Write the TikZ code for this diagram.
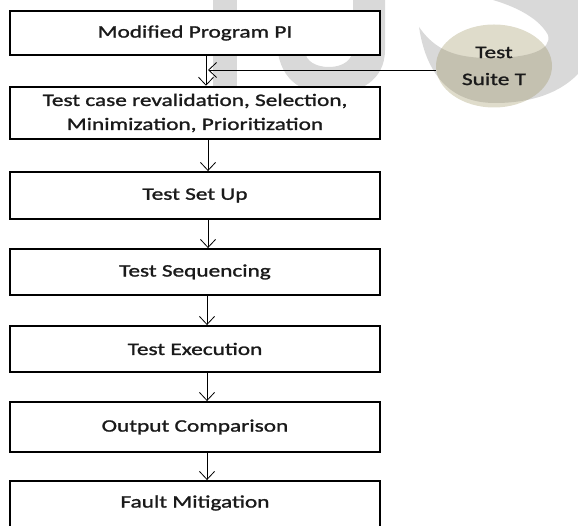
\documentclass[tikz,border=0pt]{standalone}
\usepackage{fontspec}
\setmainfont{Carlito}[FakeStretch=1.33,FakeBold=1.3]
\usetikzlibrary{arrows.meta,shapes.geometric}
\definecolor{wm}{HTML}{D9D9D9}
\definecolor{tan}{HTML}{948A54}
\definecolor{ink}{HTML}{1A1A1A}
\tikzset{
  stepbox/.style={draw, line width=1.9pt, fill=white, minimum width=370pt,
    inner sep=0pt, align=center, text=ink, font=\fontsize{17.5}{24}\selectfont},
  thickbox/.style={stepbox, line width=2.5pt},
  arr/.style={line width=0.8pt, -{Straight Barb[length=8pt,width=15pt,line width=0.8pt]}},
  suite/.style={ellipse, fill=tan, fill opacity=0.3, text opacity=1, text=ink,
    minimum width=116pt, minimum height=83pt, inner sep=0pt, align=center,
    font=\fontsize{17.5}{27}\selectfont},
}
\begin{document}
\begin{tikzpicture}[x=1pt,y=-1pt]
\useasboundingbox (0,0) rectangle (578,526);
\clip (0,0) rectangle (578,526);
% watermark
\fill[wm] (213,0) rectangle (237,95);
\fill[wm] (353,0) -- (385,0) -- (385,50) .. controls (385,80) and (360,94) .. (331,94)
  .. controls (300,94) and (277,78) .. (277,40) -- (305,40) -- (305,50)
  .. controls (305,62) and (317,67) .. (329,67) .. controls (343,67) and (353,60) .. (353,48) -- cycle;
\fill[wm] (493,0) -- (600,0) -- (600,30) .. controls (590,80) and (550,103) .. (495,103)
  .. controls (455,103) and (427,80) .. (419,27)
  .. controls (435,50) and (455,58) .. (490,58) .. controls (530,58) and (552,50) .. (548,35)
  .. controls (540,20) and (520,8) .. (493,0) -- cycle;
% boxes
\node[thickbox, minimum height=44pt] (b1) at (195,33) {Modified Program PI};
\node[thickbox, minimum height=52pt] (b2) at (195,113) {Test case revalidation, Selection,\\Minimization, Prioritization};
\node[stepbox, minimum height=47pt] (b3) at (195,195.5) {Test Set Up};
\node[stepbox, minimum height=46pt] (b4) at (195,272) {Test Sequencing};
\node[stepbox, minimum height=46pt] (b5) at (195,349) {Test Execution};
\node[stepbox, minimum height=50pt] (b6) at (195,427) {Output Comparison};
\node[stepbox, minimum height=56pt] (b7) at (195,509) {};
\node[text=ink, font=\fontsize{17.5}{24}\selectfont] (b7t) at (195,503) {Fault Mitigation};
% test suite
\node[suite] (ts) at (494,66) {Test\\Suite T};
% connectors
\coordinate (join) at (208,70);
\draw[arr] ([yshift=-4pt]ts.west) -- (join);
\draw[arr] ([xshift=11pt]b1.south) -- ([xshift=11pt]b2.north);
\draw[arr] ([xshift=13pt]b2.south) -- ([xshift=13pt]b3.north);
\draw[arr] ([xshift=13pt]b3.south) -- ([xshift=13pt]b4.north);
\draw[arr] ([xshift=12pt]b4.south) -- ([xshift=12pt]b5.north);
\draw[arr] ([xshift=12pt]b5.south) -- ([xshift=12pt]b6.north);
\draw[arr] ([xshift=12pt]b6.south) -- ([xshift=12pt]b7.north);
\end{tikzpicture}
\end{document}
